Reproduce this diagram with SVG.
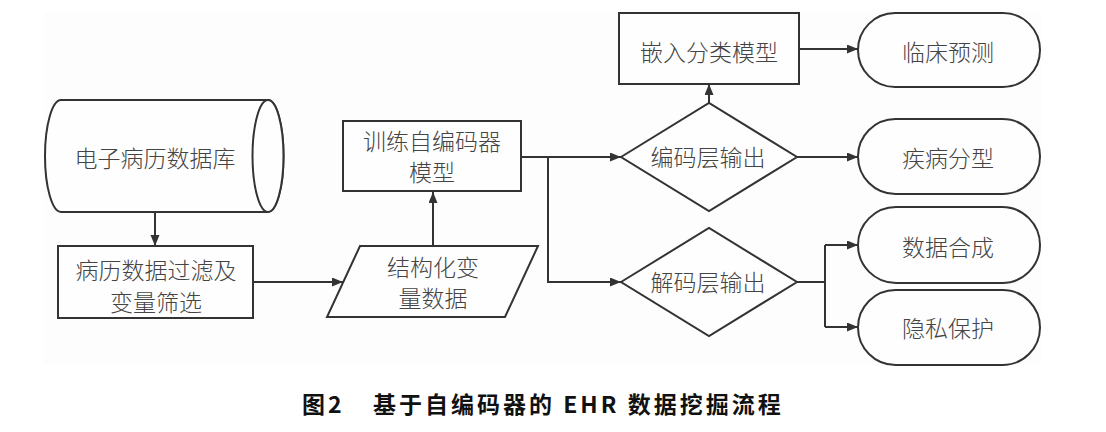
<svg xmlns="http://www.w3.org/2000/svg" width="1106" height="432" viewBox="0 0 1106 432">
<defs>
<style>
.s{fill:#fefefe;stroke:#333;stroke-width:2}
.t{font-family:"Noto Sans CJK SC","Noto Sans",sans-serif;font-size:23px;font-weight:300;fill:#444;text-anchor:middle;dominant-baseline:central}
.c{fill:none;stroke:#333;stroke-width:2}
.cap{font-family:"Noto Sans CJK SC","Liberation Sans",sans-serif;font-size:23px;font-weight:bold;fill:#111;letter-spacing:3px}
</style>
<marker id="ah" markerUnits="userSpaceOnUse" markerWidth="12" markerHeight="10" refX="11" refY="4.5" orient="auto">
<path d="M0,0 L11,4.5 L0,9 z" fill="#333"/>
</marker>
</defs>
<rect x="44" y="12" width="997" height="353" fill="#fdfdfd"/>
<g id="connectors">
<path class="c" d="M155,212 V246" marker-end="url(#ah)"/>
<path class="c" d="M253,282 H343" marker-end="url(#ah)"/>
<path class="c" d="M433,246 V192" marker-end="url(#ah)"/>
<path class="c" d="M521,157 H621" marker-end="url(#ah)"/>
<path class="c" d="M548,157 V282 H621" marker-end="url(#ah)"/>
<path class="c" d="M709,103 V84" marker-end="url(#ah)"/>
<path class="c" d="M799,49 H858" marker-end="url(#ah)"/>
<path class="c" d="M797,157 H858" marker-end="url(#ah)"/>
<path class="c" d="M797,282 H825"/>
<path class="c" d="M825,245 V327"/>
<path class="c" d="M825,245 H858" marker-end="url(#ah)"/>
<path class="c" d="M825,327 H858" marker-end="url(#ah)"/>
</g>
<g id="n-db">
<path class="s" d="M61,100 H268 A15.5,56 0 0 1 268,212 H61 A16,56 0 0 1 61,100 Z"/>
<ellipse class="s" cx="268" cy="156" rx="15.5" ry="56"/>
<text class="t" x="155" y="157">电子病历数据库</text>
</g>
<g id="n-filter">
<rect class="s" x="58" y="246" width="195" height="72"/>
<text class="t" x="156" y="269" font-size="22">病历数据过滤及</text>
<text class="t" x="156" y="301" font-size="22">变量筛选</text>
</g>
<g id="n-struct">
<polygon class="s" points="360,246 538,246 505,317 327,317"/>
<text class="t" x="433" y="266">结构化变</text>
<text class="t" x="433" y="297">量数据</text>
</g>
<g id="n-train">
<rect class="s" x="343" y="121" width="178" height="70"/>
<text class="t" x="432" y="140">训练自编码器</text>
<text class="t" x="432" y="171">模型</text>
</g>
<g id="n-enc">
<polygon class="s" points="621,157 709,103 797,157 709,211"/>
<text class="t" x="708" y="156">编码层输出</text>
</g>
<g id="n-dec">
<polygon class="s" points="621,282 709,228 797,282 709,336"/>
<text class="t" x="708" y="281">解码层输出</text>
</g>
<g id="n-embed">
<rect class="s" x="619" y="13" width="180" height="71"/>
<text class="t" x="709" y="51">嵌入分类模型</text>
</g>
<g id="n-clin">
<rect class="s" x="858" y="13" width="182" height="74" rx="37" ry="37"/>
<text class="t" x="948" y="51">临床预测</text>
</g>
<g id="n-dis">
<rect class="s" x="858" y="119" width="182" height="75" rx="37.5" ry="37.5"/>
<text class="t" x="948" y="157">疾病分型</text>
</g>
<g id="n-syn">
<rect class="s" x="858" y="207" width="182" height="76" rx="38" ry="38"/>
<text class="t" x="948" y="246">数据合成</text>
</g>
<g id="n-priv">
<rect class="s" x="858" y="290" width="182" height="75" rx="37.5" ry="37.5"/>
<text class="t" x="948" y="327">隐私保护</text>
</g>
<g id="caption">
<text class="cap" x="302" y="413" letter-spacing="0">图2</text>
<text class="cap" x="373" y="413">基于自编码器的 EHR 数据挖掘流程</text>
</g>
</svg>
